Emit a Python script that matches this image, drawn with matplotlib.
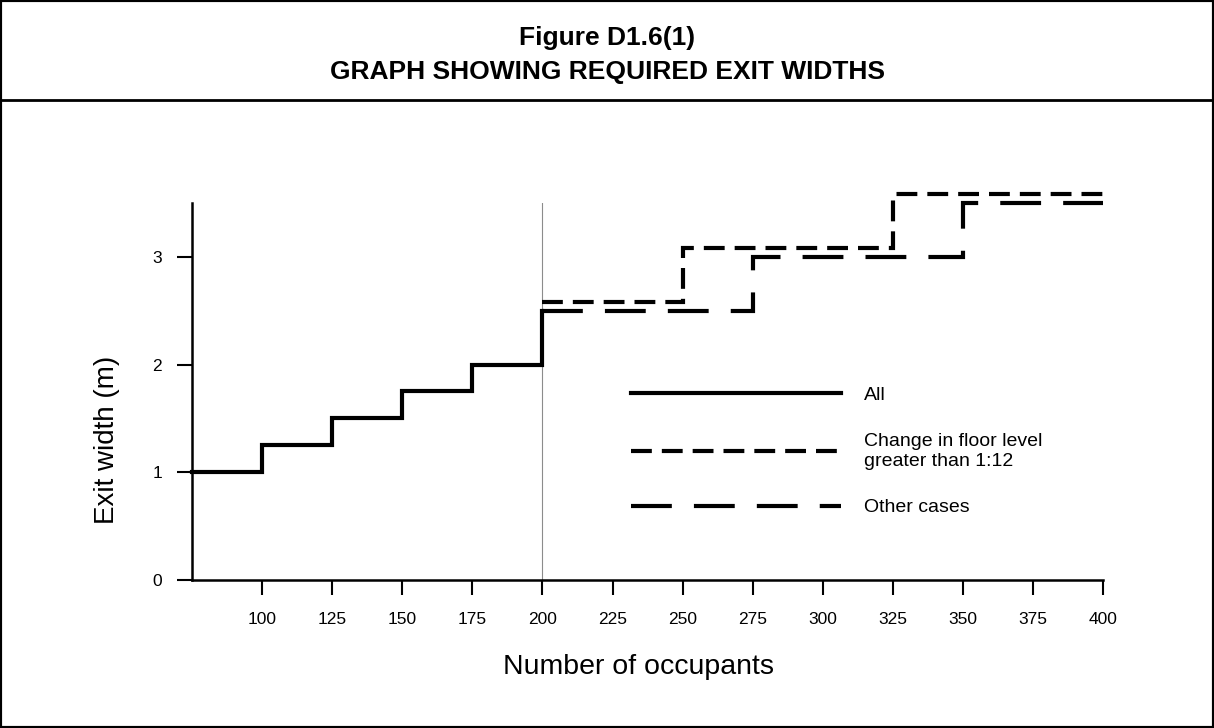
import matplotlib
matplotlib.use("Agg")
from matplotlib import pyplot as plt
from matplotlib.lines import Line2D
from matplotlib.patches import Rectangle

plt.rcParams['font.family'] = ['Liberation Sans', 'DejaVu Sans']

# required exit widths (m) by number of occupants
all_occupants = [75, 100, 125, 150, 175, 200]
all_widths = [1.0, 1.25, 1.5, 1.75, 2.0, 2.5]

floor_occupants = [200, 250, 325, 400]
floor_widths = [2.58, 3.08, 3.58, 3.58]

other_occupants = [200, 275, 350, 400]
other_widths = [2.5, 3.0, 3.5, 3.5]

x_ticks = [100, 125, 150, 175, 200, 225, 250, 275, 300, 325, 350, 375, 400]
y_ticks = [0, 1, 2, 3]

fig = plt.figure(figsize=(12.14, 7.28), dpi=100)
ax = fig.add_axes([0.1582, 0.2033, 0.7504, 0.5179])

lw = 3
ax.axvline(200, color='0.55', lw=0.8, zorder=1)
ax.plot(all_occupants, all_widths, drawstyle='steps-post', color='black', lw=lw,
        solid_joinstyle='miter', clip_on=False, label='All')
ax.plot(floor_occupants, floor_widths, drawstyle='steps-post', color='black', lw=lw,
        dashes=(5.0, 2.4), dash_joinstyle='miter', clip_on=False,
        label='Change in floor level\ngreater than 1:12')
ax.plot(other_occupants, other_widths, drawstyle='steps-post', color='black', lw=lw,
        dashes=(9.8, 5.3), dash_joinstyle='miter', clip_on=False, label='Other cases')

ax.set_xlim(75, 400)
ax.set_ylim(0, 3.5)
ax.set_xticks(x_ticks)
ax.set_yticks(y_ticks)
ax.tick_params(axis='x', direction='out', length=11, width=1.5, pad=12, labelsize=12.5)
ax.tick_params(axis='y', direction='out', length=10.5, width=1.5, pad=11, labelsize=12.5)

for side in ['top', 'right']:
    ax.spines[side].set_visible(False)
for side in ['left', 'bottom']:
    ax.spines[side].set_linewidth(1.8)

ax.set_xlabel('Number of occupants', fontsize=20.5)
ax.xaxis.set_label_coords(0.49, -0.231)
ax.xaxis.label.set_va('center')
ax.set_ylabel('Exit width (m)', fontsize=20)
ax.yaxis.set_label_coords(-0.093, 0.371)
ax.yaxis.label.set_va('center')

ax.legend(frameon=False, fontsize=14, handlelength=10.8, handletextpad=1.15,
          labelspacing=1.5, loc='center left', bbox_to_anchor=(0.463, 0.3414))

# page frame and header
fig.add_artist(Rectangle((0, 0), 1, 1, transform=fig.transFigure, fill=False,
                         edgecolor='black', lw=3))
fig.add_artist(Line2D([0, 1], [1 - 100 / 728, 1 - 100 / 728], transform=fig.transFigure,
                      color='black', lw=2))
fig.text(0.5, 1 - 38 / 728, 'Figure D1.6(1)', ha='center', va='center',
         fontsize=19, fontweight='bold')
fig.text(0.5, 1 - 72 / 728, 'GRAPH SHOWING REQUIRED EXIT WIDTHS', ha='center', va='center',
         fontsize=19, fontweight='bold')

fig.savefig('out.png', dpi=100)
